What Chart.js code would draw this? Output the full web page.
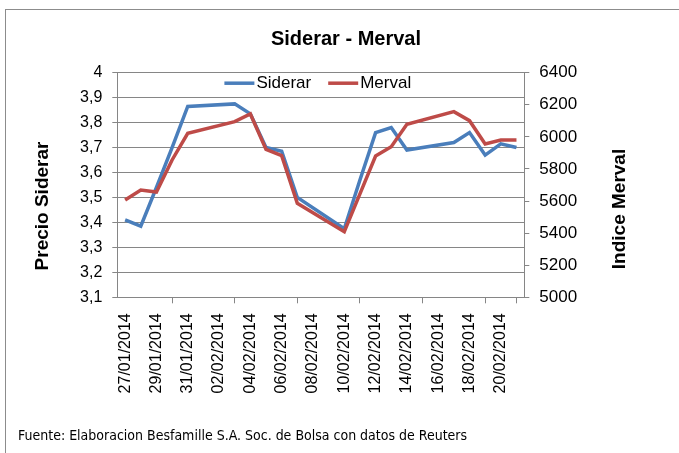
<!DOCTYPE html>
<html>
<head>
<meta charset="utf-8">
<script src="https://cdn.jsdelivr.net/npm/chart.js"></script>
<style>
  html, body { margin: 0; padding: 0; background: #fff; overflow: hidden; }
  #wrap { position: absolute; left: 5px; top: 9px; width: 682px; height: 452px;
          border-top: 1px solid #8c8c8c; border-left: 1px solid #8c8c8c; }
</style>
</head>
<body>
<div id="wrap"><canvas id="lineChart" width="682" height="452"></canvas></div>
<script>
// calendar days on the axis; weekends have no quotes (null)
const dates = ['27/01/2014','28/01/2014','29/01/2014','30/01/2014','31/01/2014','01/02/2014','02/02/2014',
  '03/02/2014','04/02/2014','05/02/2014','06/02/2014','07/02/2014','08/02/2014','09/02/2014',
  '10/02/2014','11/02/2014','12/02/2014','13/02/2014','14/02/2014','15/02/2014','16/02/2014',
  '17/02/2014','18/02/2014','19/02/2014','20/02/2014','21/02/2014'];
const siderar = [3.41, 3.385, 3.54, 3.70, 3.865, null, null,
  3.875, 3.835, 3.70, 3.685, 3.50, null, null,
  3.375, 3.57, 3.76, 3.78, 3.69, null, null,
  3.72, 3.76, 3.67, 3.715, 3.70];
const merval = [5606, 5669, 5656, 5856, 6022, null, null,
  6095, 6143, 5922, 5883, 5586, null, null,
  5409, 5645, 5881, 5939, 6078, null, null,
  6157, 6101, 5956, 5980, 5980];
const leftRange = [3.1, 4];
const rightRange = [5000, 6400];
const footer = 'Fuente: Elaboracion Besfamille S.A. Soc. de Bolsa con datos de Reuters';

const gray = '#868686';
const arial = '"Liberation Sans", Arial, sans-serif';
Chart.defaults.font.family = arial;
Chart.defaults.color = '#000';

// legend drawn inside the top of the plot area, like Excel does it
const insideLegend = {
  id: 'insideLegend',
  afterDatasetsDraw(chart) {
    const { ctx, chartArea } = chart;
    const items = chart.data.datasets.map(d => ({ text: d.label, color: d.borderColor }));
    ctx.save();
    ctx.font = '17px ' + arial;
    const lineW = 30, gap = 2, itemGap = 17;
    const widths = items.map(it => lineW + gap + ctx.measureText(it.text).width);
    const total = widths.reduce((a, b) => a + b, 0) + itemGap * (items.length - 1);
    let x = (chartArea.left + chartArea.right) / 2 - total / 2 - 3;
    const y = chartArea.top + 10.5;
    items.forEach((it, i) => {
      ctx.strokeStyle = it.color;
      ctx.lineWidth = 3.5;
      ctx.beginPath();
      ctx.moveTo(x, y);
      ctx.lineTo(x + lineW, y);
      ctx.stroke();
      ctx.fillStyle = '#000';
      ctx.textBaseline = 'middle';
      ctx.textAlign = 'left';
      ctx.fillText(it.text, x + lineW + gap, y);
      x += widths[i] + itemGap;
    });
    ctx.restore();
  }
};

// axis titles centred on the chart height rather than the plot
const axisTitles = {
  id: 'axisTitles',
  afterDraw(chart) {
    const ctx = chart.ctx;
    ctx.save();
    ctx.font = 'bold 19px ' + arial;
    ctx.fillStyle = '#000';
    ctx.textAlign = 'center';
    ctx.textBaseline = 'middle';
    [['Precio Siderar', 37, 196], ['Indice Merval', 614, 199]].forEach(([t, x, y]) => {
      ctx.save();
      ctx.translate(x, y);
      ctx.rotate(-Math.PI / 2);
      ctx.fillText(t, 0, 0);
      ctx.restore();
    });
    ctx.restore();
  }
};

const ctx = document.getElementById('lineChart').getContext('2d');
const chart = new Chart(ctx, {
  type: 'line',
  data: {
    labels: dates,
    datasets: [{
      label: 'Siderar',
      data: siderar,
      yAxisID: 'y',
      borderColor: '#4a7ebb',
      borderWidth: 3.5,
      pointRadius: 0,
      tension: 0,
      spanGaps: true,
      order: 1
    }, {
      label: 'Merval',
      data: merval,
      yAxisID: 'y1',
      borderColor: '#be4b48',
      borderWidth: 3.5,
      pointRadius: 0,
      tension: 0,
      spanGaps: true,
      order: 0
    }]
  },
  options: {
    responsive: false,
    animation: false,
    layout: { padding: { left: 12, right: 14, top: 0, bottom: 0 } },
    plugins: {
      legend: { display: false },
      tooltip: { enabled: false },
      title: {
        display: true,
        text: 'Siderar - Merval',
        font: { size: 20, weight: 'bold' },
        padding: { top: 17, bottom: 21.7 }
      },
      subtitle: {
        display: true,
        position: 'bottom',
        align: 'start',
        text: footer,
        font: { family: '"Liberation Sans Narrow", "DejaVu Sans Condensed", sans-serif', size: 14 },
        padding: { top: 6.6, bottom: 17.6 }
      }
    },
    scales: {
      x: {
        offset: true,
        grid: {
          drawOnChartArea: false,
          offset: true,
          tickLength: 6,
          color: c => (c.index === undefined || c.index % 2 === 0) ? gray : 'rgba(0,0,0,0)'
        },
        border: { color: gray },
        ticks: {
          autoSkip: false,
          maxRotation: 90,
          minRotation: 90,
          padding: 10,
          font: { size: 16 },
          callback(v, i) { return i % 2 === 0 ? this.getLabelForValue(v) : null; }
        },
        afterFit(s) { s.height = 123.7; }
      },
      y: {
        position: 'left',
        min: leftRange[0],
        max: leftRange[1],
        grid: { color: gray, tickLength: 5 },
        border: { color: gray },
        ticks: {
          stepSize: 0.1,
          padding: 10,
          font: { size: 16 },
          callback: v => String(Math.round(v * 10) / 10).replace('.', ',')
        },
        afterFit(s) { s.width = 99.3; }
      },
      y1: {
        position: 'right',
        min: rightRange[0],
        max: rightRange[1],
        grid: { drawOnChartArea: false, color: gray, tickLength: 5 },
        border: { color: gray },
        ticks: {
          stepSize: 200,
          padding: 10,
          font: { size: 17 },
          callback: v => String(v)
        },
        afterFit(s) { s.width = 149.7; }
      }
    }
  },
  plugins: [insideLegend, axisTitles]
});
</script>
</body>
</html>
